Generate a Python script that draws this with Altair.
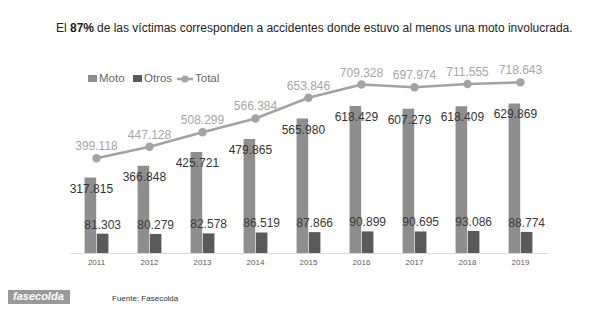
import altair as alt
import pandas as pd

years = ["2011", "2012", "2013", "2014", "2015", "2016", "2017", "2018", "2019"]
moto = [317.815, 366.848, 425.721, 479.865, 565.980, 618.429, 607.279, 618.409, 629.869]
otros = [81.303, 80.279, 82.578, 86.519, 87.866, 90.899, 90.695, 93.086, 88.774]
total = [399.118, 447.128, 508.299, 566.384, 653.846, 709.328, 697.974, 711.555, 718.643]
series = ["Moto", "Otros"]
series_colors = ["#8e8e8e", "#5a5a5a"]
total_color = "#a3a3a3"

title_a = "El"
title_b = "87%"
title_c = "de las víctimas corresponden a accidentes donde estuvo al menos una moto involucrada."
source_text = "Fuente: Fasecolda"
logo_text = "fasecolda"

FONT = "Liberation Sans"

bars_df = pd.DataFrame(
    [{"Year": y, "Serie": "Moto", "Valor": v} for y, v in zip(years, moto)]
    + [{"Year": y, "Serie": "Otros", "Valor": v} for y, v in zip(years, otros)]
)
total_df = pd.DataFrame({"Year": years, "Total": total})
one = pd.DataFrame({"k": [0]})

xscale = alt.Scale(domain=years, range=[62, 539], paddingInner=0.55, paddingOuter=0.275)
yscale = alt.Scale(domain=[0, 800], range=[245, 55])
xoff = alt.XOffset("Serie:N", scale=alt.Scale(domain=series, paddingInner=0.05, paddingOuter=0))

x_axis = alt.Axis(title=None, labelAngle=0, ticks=False, domainColor="#d9d9d9",
                  domainWidth=1, labelFontSize=8, labelColor="#595959",
                  labelPadding=5, labelFont=FONT, grid=False)

bars = alt.Chart(bars_df).mark_bar().encode(
    x=alt.X("Year:N", scale=xscale, axis=x_axis),
    xOffset=xoff,
    y=alt.Y("Valor:Q", scale=yscale, axis=None),
    color=alt.Color("Serie:N", scale=alt.Scale(domain=series, range=series_colors), legend=None),
)

moto_labels = alt.Chart(bars_df).transform_filter(alt.datum.Serie == "Moto").mark_text(
    dy=11, dx=1, fontSize=12, font=FONT, color="#333333", baseline="middle"
).encode(
    x=alt.X("Year:N", scale=xscale, axis=x_axis),
    xOffset=xoff,
    y=alt.Y("Valor:Q", scale=yscale, axis=None),
    text=alt.Text("Valor:Q", format=".3f"),
)

otros_labels = alt.Chart(bars_df).transform_filter(alt.datum.Serie == "Otros").mark_text(
    dy=-9, fontSize=12, font=FONT, color="#3a3a3a", baseline="middle"
).encode(
    x=alt.X("Year:N", scale=xscale, axis=x_axis),
    xOffset=xoff,
    y=alt.Y("Valor:Q", scale=yscale, axis=None),
    text=alt.Text("Valor:Q", format=".3f"),
)

line = alt.Chart(total_df).mark_line(color=total_color, strokeWidth=2.5).encode(
    x=alt.X("Year:N", scale=xscale, axis=x_axis),
    y=alt.Y("Total:Q", scale=yscale, axis=None),
)
points = alt.Chart(total_df).mark_circle(color=total_color, size=70, opacity=1).encode(
    x=alt.X("Year:N", scale=xscale, axis=x_axis),
    y=alt.Y("Total:Q", scale=yscale, axis=None),
)
total_labels = alt.Chart(total_df).mark_text(
    dy=-12, fontSize=12, font=FONT, color="#a6a6a6", baseline="middle"
).encode(
    x=alt.X("Year:N", scale=xscale, axis=x_axis),
    y=alt.Y("Total:Q", scale=yscale, axis=None),
    text=alt.Text("Total:Q", format=".3f"),
)

def txt(s, x, y, size=12, color="#222222", weight="normal", style="normal", align="left"):
    return alt.Chart(one).mark_text(
        align=align, baseline="middle", fontSize=size, font=FONT, color=color,
        fontWeight=weight, fontStyle=style
    ).encode(x=alt.value(x), y=alt.value(y), text=alt.value(s))

title1 = txt(title_a, 48, 20)
title2 = txt(title_b, 62, 20, weight="bold")
title3 = txt(title_c, 89, 20)

leg_moto_sq = alt.Chart(one).mark_rect(color=series_colors[0]).encode(
    x=alt.value(80), x2=alt.value(89), y=alt.value(67), y2=alt.value(74))
leg_moto_t = txt(series[0], 91, 71, size=11.5, color="#666666")
leg_otros_sq = alt.Chart(one).mark_rect(color=series_colors[1]).encode(
    x=alt.value(125), x2=alt.value(134), y=alt.value(67), y2=alt.value(74))
leg_otros_t = txt(series[1], 136, 71, size=11.5, color="#666666")
leg_tot_line = alt.Chart(one).mark_rule(color=total_color, strokeWidth=2.5).encode(
    x=alt.value(169), x2=alt.value(185), y=alt.value(71))
leg_tot_pt = alt.Chart(one).mark_circle(color=total_color, size=50, opacity=1).encode(
    x=alt.value(177), y=alt.value(71))
leg_tot_t = txt("Total", 187, 71, size=11.5, color="#666666")

logo_box = alt.Chart(one).mark_rect(color="#9a9a9a").encode(
    x=alt.value(0), x2=alt.value(62), y=alt.value(282), y2=alt.value(296))
logo_t = txt(logo_text, 5, 289, size=11, color="#ffffff", weight="bold", style="italic")
source = txt(source_text, 104, 291, size=8, color="#333333")

chart = alt.layer(
    bars, moto_labels, otros_labels, line, points, total_labels,
    title1, title2, title3,
    leg_moto_sq, leg_moto_t, leg_otros_sq, leg_otros_t, leg_tot_line, leg_tot_pt, leg_tot_t,
    logo_box, logo_t, source,
).properties(
    width=591, height=245,
    autosize=alt.AutoSizeParams(type="none"),
    padding={"left": 0, "top": 0, "right": 0, "bottom": 51},
    background="#ffffff",
).configure_view(stroke=None)

chart.save("out.html", embed_options={"renderer": "svg", "actions": False})
